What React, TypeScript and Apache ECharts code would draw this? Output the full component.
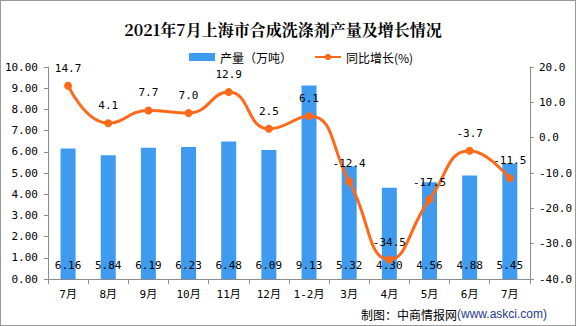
import React, { useEffect, useRef } from "react";
import * as echarts from "echarts";

const categories = ["7月", "8月", "9月", "10月", "11月", "12月", "1-2月", "3月", "4月", "5月", "6月", "7月"];
const production = [6.16, 5.84, 6.19, 6.23, 6.48, 6.09, 9.13, 5.32, 4.30, 4.56, 4.88, 5.45];
const growth = [14.7, 4.1, 7.7, 7.0, 12.9, 2.5, 6.1, -12.4, -34.5, -17.5, -3.7, -11.5];

const MONO = "'DejaVu Sans Mono', 'Noto Sans CJK SC', monospace";
const CJK = "'Noto Sans CJK SC', sans-serif";

export default function App() {
  const ref = useRef<HTMLDivElement>(null);
  useEffect(() => {
    if (!ref.current) return;
    const chart = echarts.init(ref.current, undefined, { renderer: "svg" });
    const axisColor = "#8c8c8c";
    chart.setOption({
      animation: false,
      backgroundColor: "#fff",
      title: {
        text: "2021年7月上海市合成洗涤剂产量及增长情况",
        left: 277,
        textAlign: "center",
        top: 15,
        textStyle: { fontSize: 16, fontWeight: "bold", color: "#000", fontFamily: "'Noto Serif CJK SC', 'Noto Sans CJK SC', serif" },
      },
      legend: {
        left: 183,
        top: 45,
        itemGap: 22,
        itemWidth: 26,
        itemHeight: 8,
        textStyle: { fontSize: 12, color: "#000", fontFamily: CJK },
        data: [
          { name: "产量（万吨）", icon: "rect" },
          { name: "同比增长(%)" },
        ],
      },
      grid: { left: 47, right: 42, top: 66, bottom: 46 },
      xAxis: {
        type: "category",
        data: categories,
        axisLine: { lineStyle: { color: axisColor } },
        axisTick: { show: true, length: 5, interval: 0, alignWithLabel: false, lineStyle: { color: axisColor } },
        axisLabel: { color: "#000", fontSize: 11, fontFamily: MONO, margin: 10, interval: 0 },
      },
      yAxis: [
        {
          type: "value",
          min: 0,
          max: 10,
          interval: 1,
          position: "left",
          splitLine: { show: false },
          axisLine: { show: true, lineStyle: { color: axisColor } },
          axisTick: { show: true, length: 4, lineStyle: { color: axisColor } },
          axisLabel: { color: "#000", fontSize: 11, fontFamily: MONO, margin: 10, formatter: (v: number) => v.toFixed(2) },
        },
        {
          type: "value",
          min: -40,
          max: 20,
          interval: 10,
          position: "right",
          splitLine: { show: false },
          axisLine: { show: true, lineStyle: { color: axisColor } },
          axisTick: { show: true, length: 4, lineStyle: { color: axisColor } },
          axisLabel: { color: "#000", fontSize: 11, fontFamily: MONO, margin: 9, formatter: (v: number) => v.toFixed(1) },
        },
      ],
      series: [
        {
          name: "产量（万吨）",
          type: "bar",
          data: production,
          barWidth: 15,
          itemStyle: { color: "#3f9bef" },
          label: {
            show: true,
            position: "insideBottom",
            distance: 8,
            color: "#000",
            fontSize: 11,
            fontFamily: MONO,
            formatter: (p: any) => p.value.toFixed(2),
          },
        },
        {
          name: "同比增长(%)",
          type: "line",
          yAxisIndex: 1,
          data: growth,
          smooth: true,
          symbol: "circle",
          symbolSize: 8,
          lineStyle: { color: "#ff6a1a", width: 3 },
          itemStyle: { color: "#ff6a1a" },
          label: {
            show: true,
            position: "top",
            distance: 8,
            color: "#000",
            fontSize: 11,
            fontFamily: MONO,
            formatter: (p: any) => p.value.toFixed(1),
          },
          z: 5,
        },
      ],
      graphic: [
        {
          type: "text",
          left: 360,
          top: 307,
          style: {
            text: "制图：中商情报网",
            fontSize: 12,
            fill: "#000",
            fontFamily: CJK,
          },
        },
        {
          type: "text",
          left: 456,
          top: 307,
          style: {
            text: "(www.askci.com)",
            fontSize: 12,
            fill: "#1f3a8a",
            fontFamily: "'Liberation Sans', sans-serif",
          },
        },
      ],
    });
    return () => chart.dispose();
  }, []);
  return (
    <div
      style={{ position: "fixed", left: 0, top: 0, width: 576, height: 326, boxSizing: "border-box", border: "1px solid #9a9a9a", background: "#fff" }}
    >
      <div ref={ref} style={{ width: 574, height: 324 }} />
    </div>
  );
}
